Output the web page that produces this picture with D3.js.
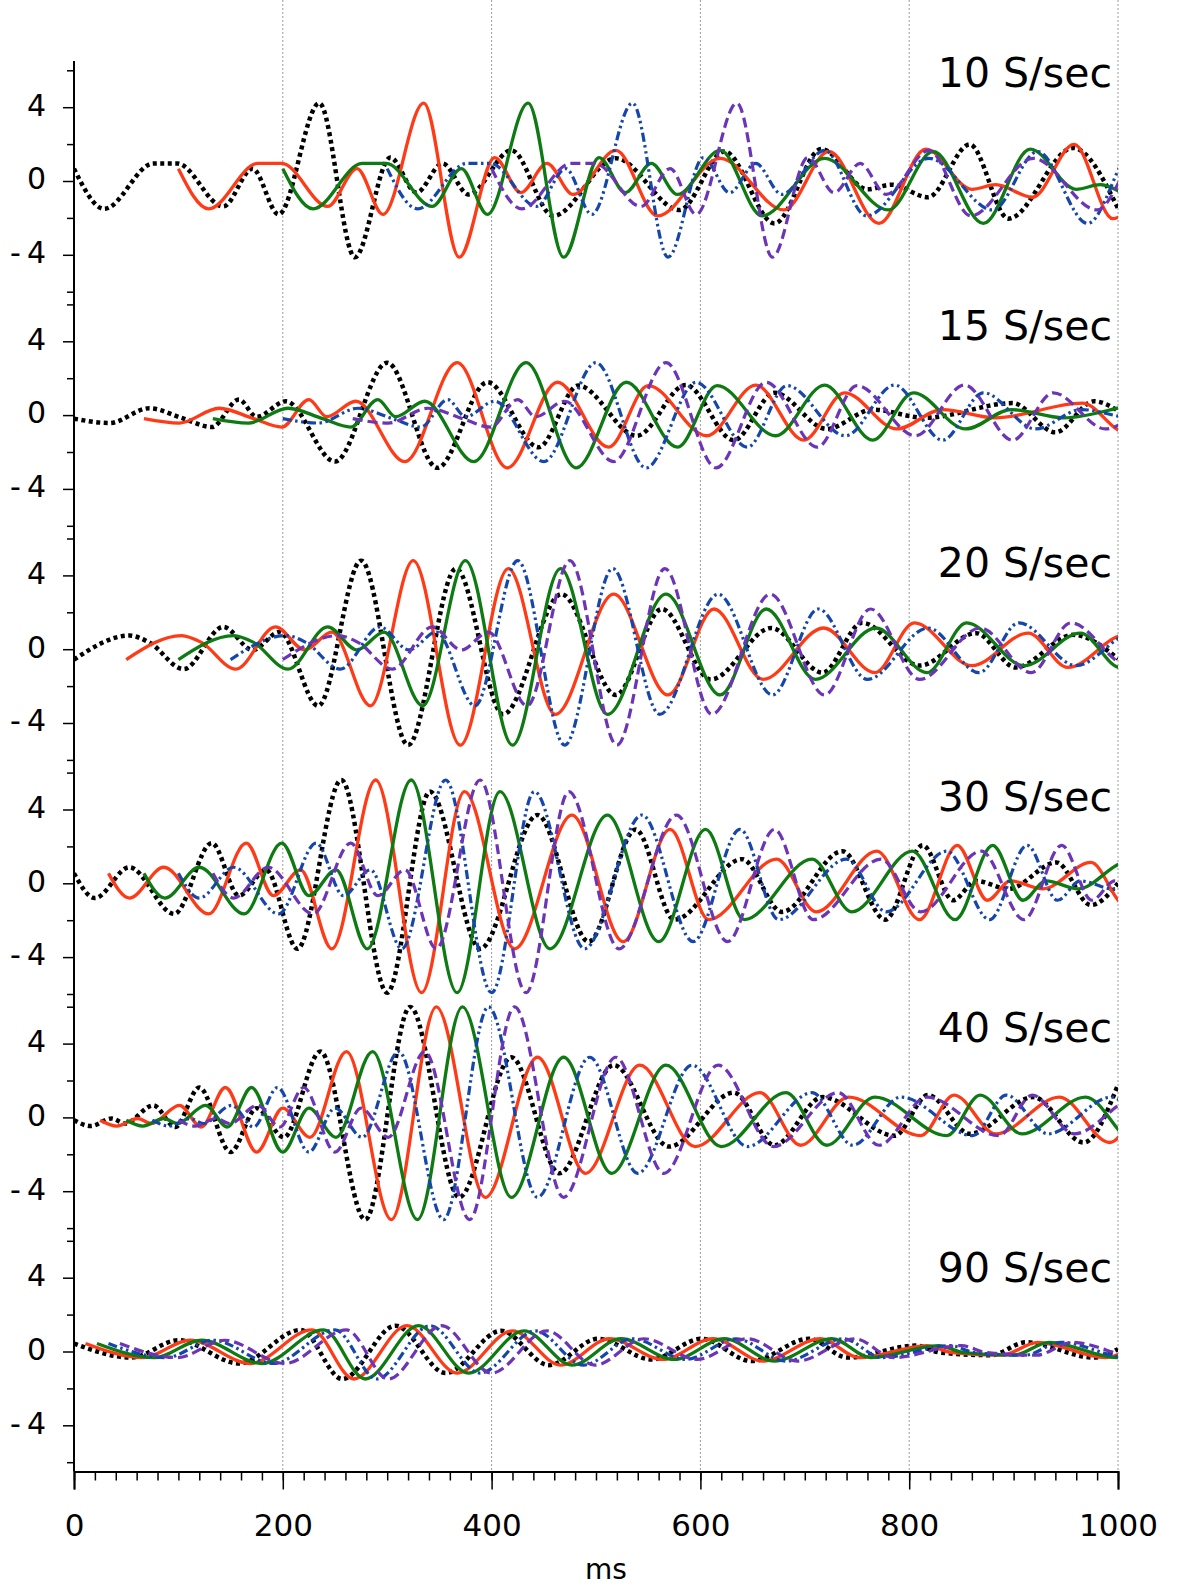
<!DOCTYPE html>
<html><head><meta charset="utf-8">
<script src="https://cdn.jsdelivr.net/npm/d3@7"></script>
<style>body{margin:0;background:#fff}svg{display:block}</style>
</head><body>
<script>
// ---- data ----
const panelTitles = ["10 S/sec","15 S/sec","20 S/sec","30 S/sec","40 S/sec","90 S/sec"];
// start time (ms) of each of the five traces in each panel
const lags10 = [0,100,200,300,400];
const lags15 = [0,67,133,200,267];
const lags20 = [0,50,100,150,200];
const lags30 = [0,33,67,100,133];
const lags40 = [0,25,50,75,100];
const lags90 = [0,11,22,33,44];
// response waveform per panel: [ms, value] turning points
const wave10 = [[0,0.67],[29,-1.51],[76,0.95],[99,0.95],[143,-1.38],[171,0.67],[196,-1.81],[235,4.22],[269,-4.13],[303,1.27],[328,-0.63],[353,0.95],[378,-0.73],[419,1.66],[459,-1.89],[519,1.23],[580,-1.57],[623,1.6],[671,-2.3],[716,1.73],[760,-0.45],[783,-0.2],[818,-0.88],[858,1.98],[895,-2.04],[957,1.79],[1000,-1.48]];
const wave15 = [[0,-0.19],[34,-0.43],[72,0.37],[105,-0.19],[132,-0.65],[158,0.84],[175,-0.09],[203,0.75],[250,-2.52],[300,2.84],[348,-2.86],[396,1.78],[445,-1.74],[483,1.6],[539,-1.12],[586,1.63],[632,-1.36],[671,1.21],[721,-0.75],[765,0.3],[815,-0.15],[899,0.65],[940,-0.93],[977,0.75],[1000,0.24]];
const wave20 = [[0,-0.56],[53,0.74],[72,0.37],[105,-1.08],[143,1.21],[171,-0.04],[197,0.93],[234,-3.07],[275,4.8],[320,-5.2],[366,4.37],[411,-3.53],[467,2.98],[519,-2.48],[563,2.18],[610,-1.64],[668,1.15],[717,-1.27],[755,1.43],[810,-0.89],[864,0.87],[902,-0.99],[957,0.78],[1000,-0.52]];
const wave30 = [[0,0.54],[20,-0.8],[53,0.87],[96,-1.66],[132,2.18],[158,-0.67],[184,0.73],[214,-3.55],[256,5.6],[300,-5.93],[341,4.97],[389,-3.55],[444,3.7],[493,-3.16],[538,2.92],[575,-1.97],[640,1.31],[678,-1.55],[736,1.74],[777,-1.97],[813,2.06],[842,-0.92],[864,0.13],[895,-0.3],[941,1.13],[974,-1.18],[1000,0]];
const wave40 = [[0,-0.15],[16,-0.47],[36,-0.06],[49,-0.33],[76,0.65],[97,-0.52],[120,1.62],[150,-1.88],[175,0.5],[201,-1.08],[236,3.57],[279,-5.54],[322,5.99],[369,-4.33],[419,3.26],[465,-3.03],[517,2.83],[570,-1.58],[632,1.34],[671,-1.51],[717,1.1],[786,-0.99],[818,1.21],[858,-0.89],[919,1.1],[967,-1.36],[1000,1.77]];
const wave90 = [[0,0.43],[55,-0.33],[100,0.61],[158,-0.65],[217,1.17],[257,-1.49],[308,1.4],[356,-1.17],[409,1.12],[455,-0.74],[502,0.69],[553,-0.43],[601,0.69],[649,-0.52],[704,0.69],[741,-0.33],[806,0.32],[830,-0.06],[878,-0.2],[912,0.5],[977,-0.33],[1000,0.13]];
const xTickValues = [0,200,400,600,800,1000];
const yLabelValues = [4,0,-4];
const yMinorValues = [-6,-2,2,6];

const waves = [wave10,wave15,wave20,wave30,wave40,wave90];
const lagSets = [lags10,lags15,lags20,lags30,lags40,lags90];

// ---- layout / styles ----
const W = 1200, H = 1589;
const x0 = 74, x1 = 1118;
const axisY = 1471.5;
const zero0 = 181, panelStep = 234.1, halfSpan = 110.7;
const titleBaselines = [87,340,577,811,1042,1282];
const styles = [
  {color:"#000000", width:4.5, dash:"4,3.5"},
  {color:"#ff3a16", width:3.3, dash:null},
  {color:"#0d7a12", width:3.3, dash:null},
  {color:"#1446ab", width:3.2, dash:"9,3.5,2.5,3.5,2.5,3.5"},
  {color:"#6c34b6", width:3.2, dash:"10,5"}
];
const font = "'DejaVu Sans', Verdana, sans-serif";

const svg = d3.select("body").append("svg").attr("width",W).attr("height",H);
svg.append("defs").append("clipPath").attr("id","plotclip")
  .append("rect").attr("x",x0).attr("y",0).attr("width",x1-x0).attr("height",H);

const x = d3.scaleLinear().domain([0,1000]).range([x0,x1]);

// grid lines
svg.append("g").selectAll("line").data(xTickValues.filter(d=>d>0)).join("line")
  .attr("x1",d=>x(d)).attr("x2",d=>x(d)).attr("y1",0).attr("y2",axisY)
  .attr("stroke","#9a9a9a").attr("stroke-width",1).attr("stroke-dasharray","2,2");

// panels
waves.forEach((wave,i)=>{
  const zero = zero0 + panelStep*i;
  const y = d3.scaleLinear().domain([-6,6]).range([zero+halfSpan, zero-halfSpan]);
  const line = d3.line().x(d=>x(d[0])).y(d=>y(d[1])).curve(d3.curveMonotoneX);
  const g = svg.append("g").attr("clip-path","url(#plotclip)");
  lagSets[i].forEach((lag,k)=>{
    const pts = wave.map(d=>[d[0]+lag, d[1]]);
    const st = styles[k];
    g.append("path").attr("d",line(pts)).attr("fill","none")
      .attr("stroke",st.color).attr("stroke-width",st.width)
      .attr("stroke-dasharray",st.dash).attr("stroke-linejoin","round");
  });
  // y axis ticks
  const minor = svg.append("g").attr("transform",`translate(${x0},0)`)
    .call(d3.axisLeft(y).tickValues(yMinorValues).tickSize(7).tickFormat(""));
  minor.select(".domain").remove();
  minor.selectAll("line").attr("stroke","#000").attr("stroke-width",1.5);
  const major = svg.append("g").attr("transform",`translate(${x0},0)`)
    .call(d3.axisLeft(y).tickValues(yLabelValues).tickSize(11).tickPadding(17).tickFormat(d=>String(d)));
  major.select(".domain").remove();
  major.selectAll("line").attr("stroke","#000").attr("stroke-width",1.5);
  major.selectAll("text").attr("font-family",font).attr("font-size",30).attr("fill","#000")
    .attr("dy","0.26em")
    .each(function(d){
      if(d<0){
        const t=d3.select(this); t.text("");
        t.append("tspan").text("-");
        t.append("tspan").attr("dx",6).text(String(-d));
      }
    });
  // title
  svg.append("text").attr("x",1112).attr("y",titleBaselines[i])
    .attr("text-anchor","end").attr("font-family",font).attr("font-size",41)
    .attr("fill","#000").text(panelTitles[i]);
});

// y axis line
svg.append("line").attr("x1",x0).attr("x2",x0).attr("y1",61).attr("y2",axisY)
  .attr("stroke","#000").attr("stroke-width",2);

// x axis
const xMinor = svg.append("g").attr("transform",`translate(0,${axisY})`)
  .call(d3.axisBottom(x).tickValues(d3.range(0,1001,20)).tickSize(9).tickFormat(""));
xMinor.select(".domain").remove();
xMinor.selectAll("line").attr("stroke","#000").attr("stroke-width",1.5);
const xMajor = svg.append("g").attr("transform",`translate(0,${axisY})`)
  .call(d3.axisBottom(x).tickValues(xTickValues).tickSize(18).tickPadding(24).tickFormat(d=>String(d)));
xMajor.select(".domain").attr("stroke","#000").attr("stroke-width",2);
xMajor.selectAll("line").attr("stroke","#000").attr("stroke-width",1.5);
xMajor.selectAll("text").attr("font-family",font).attr("font-size",31).attr("fill","#000");

svg.append("text").attr("x",606).attr("y",1579).attr("text-anchor","middle")
  .attr("font-family",font).attr("font-size",28).attr("fill","#000").text("ms");
</script>
</body></html>
